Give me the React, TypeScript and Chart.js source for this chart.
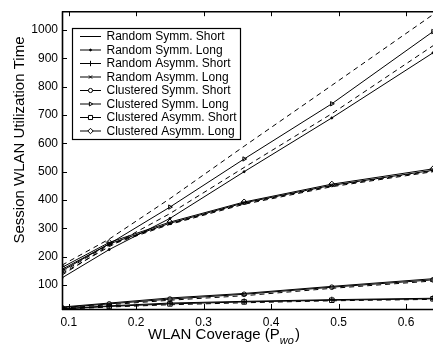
import React, { useEffect, useRef } from 'react';
import { Chart, registerables } from 'chart.js';
import { drawPoint } from 'chart.js/helpers';

Chart.register(...registerables);

const FONT = '"Liberation Sans", Arial, Helvetica, sans-serif';

// WLAN coverage values (x)
const coverage = [0.09, 0.16, 0.25, 0.36, 0.49, 0.64];
const xTickValues = [0.1, 0.2, 0.3, 0.4, 0.5, 0.6];
const yTickValues = [100, 200, 300, 400, 500, 600, 700, 800, 900, 1000];

// Simulation series (in legend)
const seriesNames = [
  'Random Symm. Short',
  'Random Symm. Long',
  'Random Asymm. Short',
  'Random Asymm. Long',
  'Clustered Symm. Short',
  'Clustered Symm. Long',
  'Clustered Asymm. Short',
  'Clustered Asymm. Long',
];
const randomSymmShort = [22, 36, 54, 70, 95, 122];
const randomSymmLong = [125, 225, 335, 500, 690, 920];
const randomAsymmShort = [16, 26, 36, 42, 48, 53];
const randomAsymmLong = [150, 245, 318, 390, 452, 505];
const clusteredSymmShort = [20, 33, 50, 67, 92, 118];
const clusteredSymmLong = [155, 245, 375, 545, 740, 995];
const clusteredAsymmShort = [15, 24, 33, 40, 46, 51];
const clusteredAsymmLong = [162, 250, 322, 393, 456, 510];

// Analytical (dashed) curves, not in legend
const analyticSymmLongA = [170, 262, 405, 590, 805, 1055];
const analyticSymmLongB = [140, 235, 352, 515, 705, 945];
const analyticAsymmLongA = [135, 240, 314, 385, 447, 500];
const analyticAsymmLongB = [145, 243, 316, 388, 450, 503];
const analyticSymmShort = [18, 30, 46, 62, 88, 114];
const analyticAsymmShort = [14, 22, 30, 37, 44, 49];

const seriesValues = [
  randomSymmShort,
  randomSymmLong,
  randomAsymmShort,
  randomAsymmLong,
  clusteredSymmShort,
  clusteredSymmLong,
  clusteredAsymmShort,
  clusteredAsymmLong,
];
const analyticValues = [
  analyticSymmLongA,
  analyticSymmLongB,
  analyticAsymmLongA,
  analyticAsymmLongB,
  analyticSymmShort,
  analyticAsymmShort,
];

type Marker = { style: any; radius: number; rotation: number; fill: boolean };
const markers: Marker[] = [
  { style: false, radius: 0, rotation: 0, fill: false },
  { style: 'circle', radius: 1, rotation: 0, fill: true },
  { style: 'cross', radius: 3, rotation: 0, fill: false },
  { style: 'crossRot', radius: 2.5, rotation: 0, fill: false },
  { style: 'circle', radius: 2.3, rotation: 0, fill: false },
  { style: 'triangle', radius: 2.5, rotation: 90, fill: false },
  { style: 'rect', radius: 3.2, rotation: 0, fill: false },
  { style: 'rectRot', radius: 3, rotation: 0, fill: false },
];

const frameAndText = {
  id: 'frameAndText',
  afterDatasetsDraw(chart: any) {
    const { ctx, chartArea, scales } = chart;
    const { left, right, top, bottom } = chartArea;
    const x = scales.x;
    const y = scales.y;
    ctx.save();
    ctx.strokeStyle = '#000';
    ctx.lineWidth = 1.6;
    ctx.beginPath();
    ctx.moveTo(left + 0.5, top);
    ctx.lineTo(left + 0.5, bottom + 1);
    ctx.moveTo(left, top + 0.5);
    ctx.lineTo(right, top + 0.5);
    ctx.moveTo(left, bottom + 0.5);
    ctx.lineTo(right, bottom + 0.5);
    ctx.stroke();
    ctx.lineWidth = 1;
    ctx.beginPath();
    xTickValues.forEach((v) => {
      const px = Math.round(x.getPixelForValue(v)) + 0.5;
      ctx.moveTo(px, bottom);
      ctx.lineTo(px, bottom - 5);
      ctx.moveTo(px, top);
      ctx.lineTo(px, top + 5);
    });
    yTickValues.forEach((v) => {
      const py = Math.round(y.getPixelForValue(v)) + 0.5;
      ctx.moveTo(left, py);
      ctx.lineTo(left + 5, py);
    });
    ctx.stroke();

    // Legend
    const bx = 72.5, by = 28.5, bw = 168, bh = 111;
    ctx.fillStyle = '#fff';
    ctx.fillRect(bx, by, bw, bh);
    ctx.lineWidth = 1.2;
    ctx.strokeStyle = '#000';
    ctx.strokeRect(bx, by, bw, bh);
    ctx.font = `12px ${FONT}`;
    ctx.textBaseline = 'middle';
    ctx.textAlign = 'left';
    seriesNames.forEach((name, i) => {
      const ry = 36 + i * 13.5;
      ctx.lineWidth = 1;
      ctx.strokeStyle = '#000';
      ctx.beginPath();
      ctx.moveTo(80, ry + 0.5);
      ctx.lineTo(101, ry + 0.5);
      ctx.stroke();
      const m = markers[i];
      if (m.style) {
        ctx.fillStyle = m.fill ? '#000' : '#fff';
        drawPoint(ctx, { pointStyle: m.style, radius: m.radius * 0.9, rotation: m.rotation, borderWidth: 1 } as any, 90.5, ry + 0.5);
      }
      ctx.fillStyle = '#000';
      ctx.fillText(name, 106.5, ry + 1);
    });

    // Axis titles
    ctx.fillStyle = '#000';
    ctx.font = `15px ${FONT}`;
    ctx.save();
    ctx.translate(24, 140);
    ctx.rotate(-Math.PI / 2);
    ctx.textAlign = 'center';
    ctx.textBaseline = 'alphabetic';
    ctx.fillText('Session WLAN Utilization Time', 0, 0);
    ctx.restore();

    ctx.textBaseline = 'alphabetic';
    ctx.textAlign = 'left';
    const main = 'WLAN Coverage (P';
    const sub = 'wo';
    const close = ')';
    ctx.font = `15px ${FONT}`;
    const wMain = ctx.measureText(main).width;
    const wClose = ctx.measureText(close).width;
    ctx.font = `italic 11px ${FONT}`;
    const wSub = ctx.measureText(sub).width;
    const total = wMain + wSub + wClose + 1;
    const sx = 224 - total / 2;
    const base = 339;
    ctx.font = `15px ${FONT}`;
    ctx.fillText(main, sx, base);
    ctx.font = `italic 11px ${FONT}`;
    ctx.fillText(sub, sx + wMain, base + 5);
    ctx.font = `15px ${FONT}`;
    ctx.fillText(close, sx + wMain + wSub + 1, base);
    ctx.restore();
  },
};

export default function App() {
  const ref = useRef<HTMLCanvasElement>(null);
  useEffect(() => {
    if (!ref.current) return;
    const datasets: any[] = [];
    analyticValues.forEach((vals) => {
      datasets.push({
        data: coverage.map((c, i) => ({ x: c, y: vals[i] })),
        borderColor: '#000',
        borderWidth: 1,
        borderDash: [5, 4],
        pointRadius: 0,
        fill: false,
        tension: 0,
      });
    });
    seriesValues.forEach((vals, k) => {
      const m = markers[k];
      datasets.push({
        label: seriesNames[k],
        data: coverage.map((c, i) => ({ x: c, y: vals[i] })),
        borderColor: '#000',
        borderWidth: 1,
        pointStyle: m.style || 'circle',
        pointRadius: m.style ? m.radius : 0,
        pointRotation: m.rotation,
        pointBorderColor: '#000',
        pointBorderWidth: 1,
        pointBackgroundColor: m.fill ? '#000' : 'rgba(0,0,0,0)',
        fill: false,
        tension: 0,
      });
    });
    const chart = new Chart(ref.current, {
      type: 'line',
      data: { datasets },
      options: {
        responsive: false,
        animation: false,
        layout: { padding: { top: 10, left: 0, right: 0, bottom: 0 } },
        plugins: { legend: { display: false }, tooltip: { enabled: false } },
        scales: {
          x: {
            type: 'linear',
            min: 0.09,
            max: 0.64,
            afterBuildTicks: (s: any) => {
              s.ticks = xTickValues.map((v) => ({ value: v }));
            },
            afterFit: (s: any) => {
              s.height = 43;
            },
            grid: { display: false, drawTicks: false },
            border: { display: false },
            ticks: {
              autoSkip: false,
              maxRotation: 0,
              padding: 6,
              color: '#000',
              font: { family: FONT, size: 12 },
              callback: (v: any) => Number(v).toFixed(1),
            },
          },
          y: {
            type: 'linear',
            min: 15,
            max: 1067,
            afterBuildTicks: (s: any) => {
              s.ticks = yTickValues.map((v) => ({ value: v }));
            },
            afterFit: (s: any) => {
              s.width = 62;
            },
            grid: { display: false, drawTicks: false },
            border: { display: false },
            ticks: {
              autoSkip: false,
              padding: 4,
              color: '#000',
              font: { family: FONT, size: 12 },
              callback: (v: any) => String(v),
            },
          },
        },
      },
      plugins: [frameAndText],
    });
    return () => chart.destroy();
  }, []);
  return (
    <div style={{ position: 'absolute', left: 0, top: 0, width: 438, height: 352, background: '#fff' }}>
      <canvas ref={ref} width={438} height={352} style={{ display: 'block' }} />
    </div>
  );
}
